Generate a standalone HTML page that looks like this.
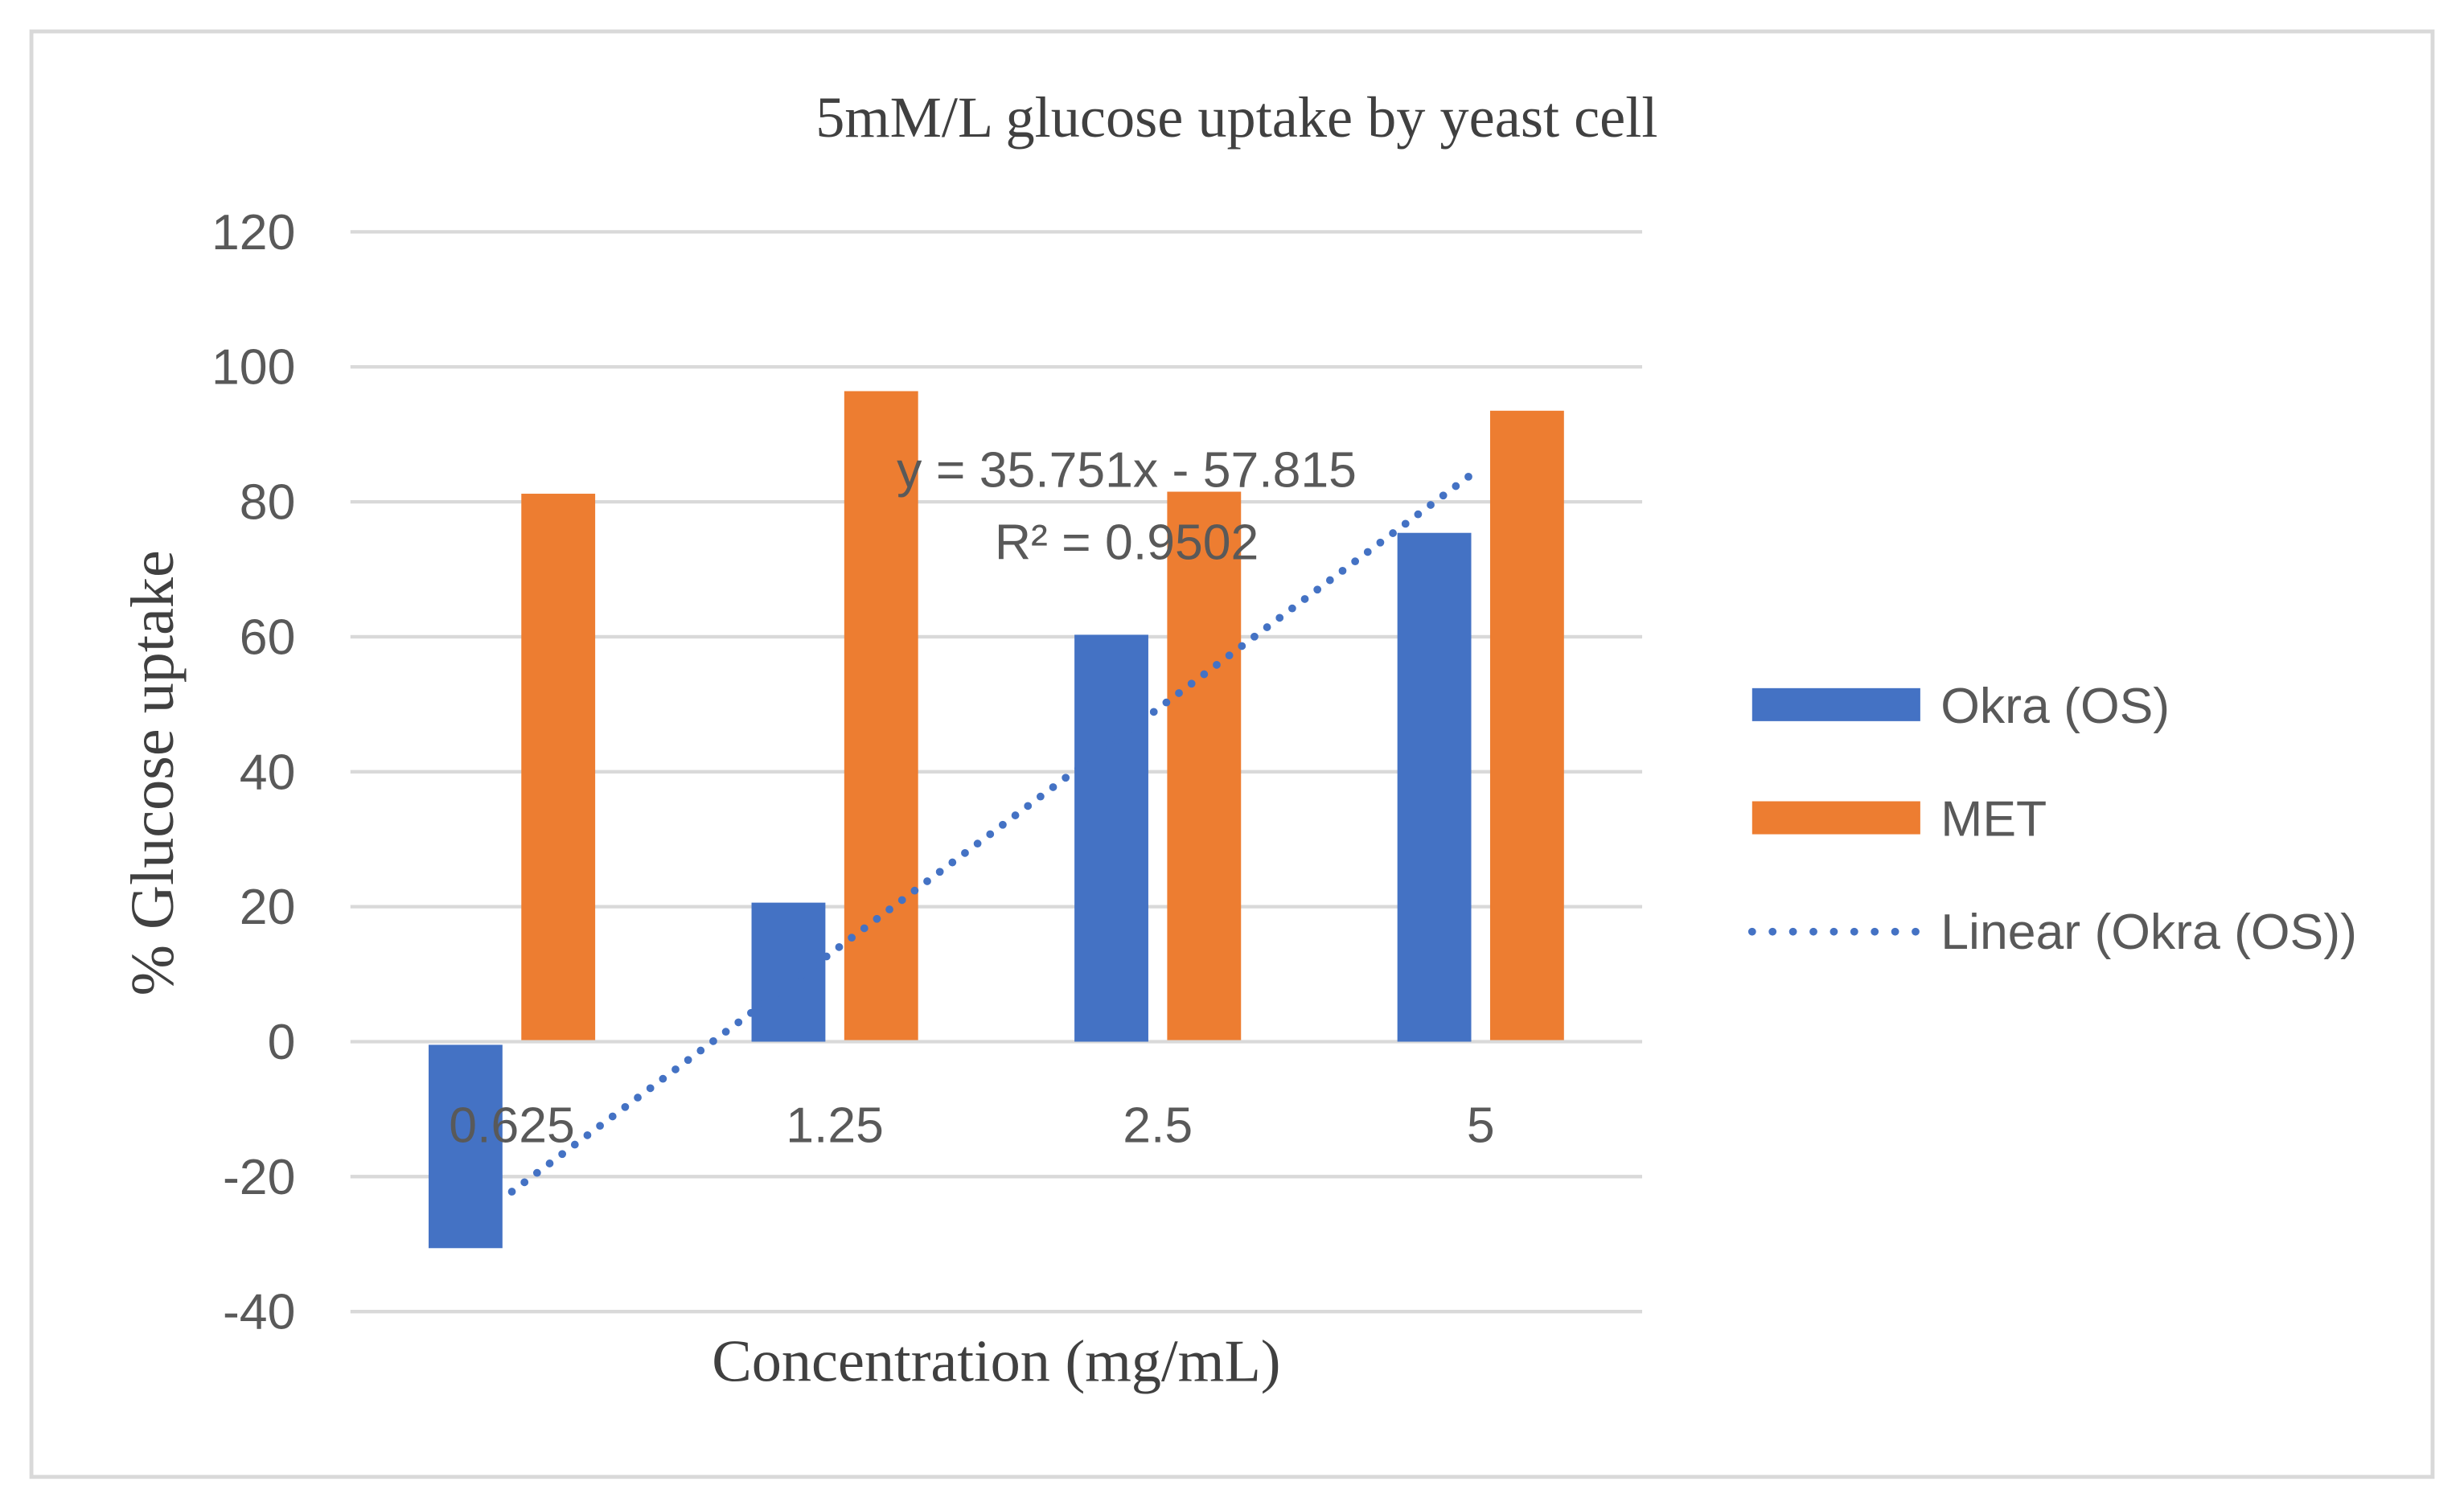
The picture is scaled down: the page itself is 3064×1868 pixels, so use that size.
<!DOCTYPE html>
<html><head><meta charset="utf-8"><style>
html,body{margin:0;padding:0;background:#fff;width:3064px;height:1868px;overflow:hidden}
svg{display:block}
.sans{font-family:"Liberation Sans",sans-serif;fill:#595959}
.serif{font-family:"Liberation Serif",serif;fill:#404040}
</style></head><body>
<svg id="chart" width="3064" height="1868" viewBox="0 0 1568 956" preserveAspectRatio="none" xmlns="http://www.w3.org/2000/svg">
<rect x="20" y="20" width="1528" height="920" fill="#fff" stroke="#D9D9D9" stroke-width="2.5"/>
<text class="serif" x="787" y="87" font-size="37" text-anchor="middle">5mM/L glucose uptake by yeast cell</text>
<text class="serif" font-size="39" text-anchor="middle" transform="translate(110,492) rotate(-90)">% Glucose uptake</text>
<text class="serif" x="634" y="879" font-size="38" text-anchor="middle">Concentration (mg/mL)</text>
<g id="grid"></g><g id="bars"></g><g id="trend"></g><g id="labels"></g>
<text class="sans" x="717" y="310" font-size="32" text-anchor="middle">y = 35.751x - 57.815</text>
<text class="sans" x="717" y="356" font-size="32" text-anchor="middle">R² = 0.9502</text>
<g>
<rect x="1115" y="438" width="107" height="21" fill="#4472C4"/>
<text class="sans" x="1235" y="460" font-size="32">Okra (OS)</text>
<rect x="1115" y="510" width="107" height="21" fill="#ED7D31"/>
<text class="sans" x="1235" y="532" font-size="32">MET</text>
<line x1="1115" y1="593" x2="1220" y2="593" stroke="#4472C4" stroke-width="5" stroke-dasharray="0 13" stroke-linecap="round"/>
<text class="sans" x="1235" y="604" font-size="32">Linear (Okra (OS))</text>
</g>
</svg>
<script>
const categories = ["0.625","1.25","2.5","5"];
const okra = [-30.6, 20.6, 60.3, 75.4];
const met = [81.2, 96.4, 81.5, 93.5];
const yTicks = [-40,-20,0,20,40,60,80,100,120];
const NS="http://www.w3.org/2000/svg";
const plotL=223, plotR=1045, y0=663, pxPerUnit=4.295;
const band=(plotR-plotL)/categories.length;
function yScale(v){return y0 - v*pxPerUnit;}
function xCenter(i){return plotL + band*(i+0.5);}
function mk(tag,attrs,parent){const e=document.createElementNS(NS,tag);for(const k in attrs)e.setAttribute(k,attrs[k]);parent.appendChild(e);return e;}
const grid=document.getElementById('grid'), bars=document.getElementById('bars'), labels=document.getElementById('labels'), trend=document.getElementById('trend');
yTicks.forEach(t=>{
  const l=mk('line',{x1:plotL,x2:plotR,y1:yScale(t),y2:yScale(t),stroke:'#D9D9D9','stroke-width':2.2},grid);
  
  
  const tx=mk('text',{x:188,y:yScale(t)+11,'font-size':32,'text-anchor':'end',class:'sans'},grid);
  tx.textContent=t;
  
  
});
const bw=47, gap=12;
categories.forEach((c,i)=>{
  const cx=xCenter(i);
  const vo=okra[i], ys=[yScale(Math.max(vo,0)), yScale(Math.min(vo,0))];
  const b1=mk('rect',{x:cx-gap/2-bw,y:ys[0]+(vo<0?2:0),width:bw,height:Math.abs(ys[1]-ys[0])-(vo<0?2:0),fill:'#4472C4'},bars);
  
  
  const vm=met[i];
  const b2=mk('rect',{x:cx+gap/2,y:yScale(Math.max(vm,0)),width:bw,height:Math.abs(yScale(vm)-yScale(0))-1,fill:'#ED7D31'},bars);
  
  
  const t=mk('text',{x:cx,y:727,'font-size':32,'text-anchor':'middle',class:'sans'},labels);
  t.textContent=c;
  
  
});
const n=okra.length; let sx=0,sy=0,sxy=0,sxx=0;
okra.forEach((v,i)=>{const x=i+1;sx+=x;sy+=v;sxy+=x*v;sxx+=x*x;});
const slope=(n*sxy-sx*sy)/(n*sxx-sx*sx), icpt=(sy-slope*sx)/n;
const tl=mk('line',{x1:xCenter(0),y1:yScale(slope*1+icpt),x2:xCenter(n-1),y2:yScale(slope*n+icpt),stroke:'#4472C4','stroke-width':5,'stroke-dasharray':'0 10','stroke-linecap':'round'},trend);


</script>
</body></html>
